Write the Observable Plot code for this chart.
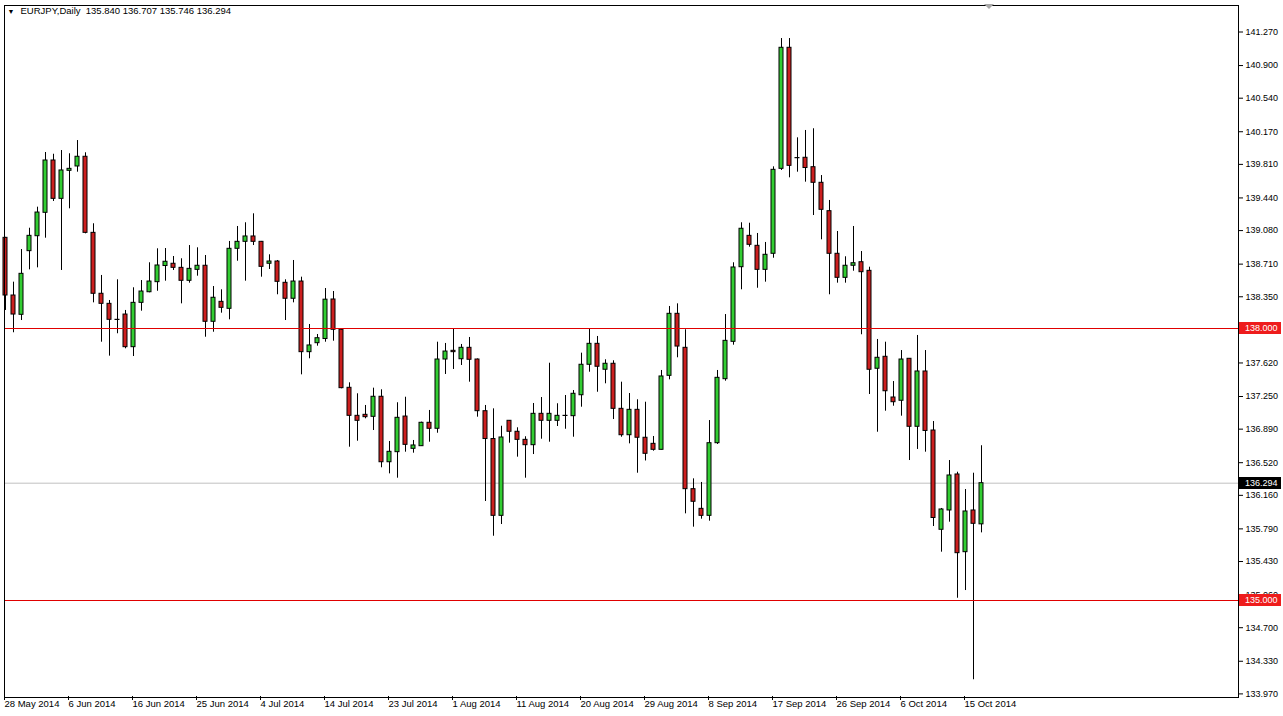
<!DOCTYPE html>
<html><head><meta charset="utf-8">
<script src="https://cdn.jsdelivr.net/npm/d3@7"></script>
<script src="https://cdn.jsdelivr.net/npm/@observablehq/plot@0.6"></script>
<style>html,body{margin:0;padding:0;background:#fff;overflow:hidden}</style>
</head><body><div id="chart"></div>
<script>
const symbol = "EURJPY,Daily";

const opens = [139.000,138.364,138.151,138.853,139.018,139.276,139.853,139.430,139.739,139.787,
139.894,139.055,138.383,138.272,138.094,138.154,137.794,138.283,138.400,138.511,
138.689,138.714,138.669,138.526,138.647,138.692,138.074,138.294,138.217,138.879,
138.956,139.015,138.956,138.714,138.739,138.504,138.328,138.518,137.739,137.838,
137.884,138.320,137.986,137.346,137.037,137.048,137.026,137.247,136.525,136.636,
137.029,136.673,136.702,136.960,136.894,137.658,137.754,137.661,137.787,137.658,
137.088,136.781,135.934,136.982,136.861,136.772,136.713,137.059,136.982,136.982,
137.037,137.033,137.264,137.600,137.831,137.545,137.611,137.114,136.823,137.103,
136.795,136.728,136.662,137.478,138.162,137.787,136.228,136.011,135.934,136.735,
137.441,137.853,138.676,139.022,138.912,138.647,138.824,139.761,141.096,139.878,
139.883,139.779,139.607,139.294,138.824,138.559,138.692,138.731,138.636,137.556,
137.688,137.239,137.203,137.666,136.916,137.526,136.875,135.780,135.993,136.390,
135.533,135.993,135.840];

const highs = [139.005,138.511,138.871,139.106,139.338,139.941,139.922,139.963,139.927,140.073,
139.938,139.155,138.585,138.309,138.537,138.199,138.449,138.529,138.725,138.879,
138.882,138.794,138.769,138.915,138.890,138.805,138.463,138.427,138.960,139.125,
139.166,139.265,138.960,138.813,138.750,138.537,138.750,138.566,138.044,137.934,
138.441,138.408,137.989,137.401,137.280,137.151,137.342,137.324,136.754,137.181,
137.242,136.765,136.967,137.096,137.849,137.835,137.989,137.824,137.901,137.664,
137.151,137.114,136.922,136.985,136.905,136.806,137.173,137.239,137.617,137.170,
137.261,137.316,137.728,137.992,137.912,137.655,137.644,137.408,137.283,137.214,
137.187,136.809,137.537,138.243,138.272,137.986,136.342,136.302,136.985,137.537,
138.154,138.725,139.166,139.161,139.048,138.949,139.783,141.198,141.198,140.103,
140.184,140.203,139.687,139.412,139.070,138.791,139.125,138.849,138.676,137.879,
137.849,137.415,137.757,137.666,137.923,137.757,136.974,136.015,136.544,136.415,
136.224,136.404,136.707];

const lows = [138.199,137.953,138.088,138.647,138.669,138.996,139.401,138.640,139.320,139.724,
139.044,138.283,137.849,137.695,137.942,137.776,137.691,138.191,138.394,138.411,
138.522,138.640,138.272,138.500,138.577,137.904,137.959,138.169,138.096,138.742,
138.522,138.915,138.566,138.651,138.372,138.088,138.283,137.489,137.666,137.805,
137.849,137.860,137.335,136.691,136.757,137.004,136.875,136.464,136.397,136.349,
136.636,136.625,136.699,136.746,136.845,137.493,137.548,137.592,137.408,137.022,
136.092,135.709,135.838,136.735,136.581,136.349,136.610,136.779,136.746,136.919,
136.889,136.801,137.132,137.518,137.297,137.390,136.996,136.801,136.728,136.404,
136.539,136.647,136.660,137.434,137.677,135.956,135.809,135.897,135.875,136.721,
137.419,137.816,138.427,138.897,138.444,138.511,138.775,139.743,139.662,139.724,
139.614,139.246,138.978,138.372,138.500,138.500,138.632,137.931,137.272,136.856,
137.088,137.143,137.033,136.544,136.666,136.636,135.816,135.533,135.864,135.025,
135.110,134.126,135.746];

const closes = [138.364,138.154,138.603,139.022,139.279,139.853,139.430,139.743,139.761,139.894,
139.055,138.383,138.272,138.096,138.096,137.794,138.283,138.408,138.518,138.695,
138.736,138.669,138.526,138.658,138.692,138.074,138.339,138.228,138.879,138.956,
139.015,138.956,138.680,138.739,138.515,138.328,138.518,137.739,137.813,137.893,
138.318,137.986,137.342,137.037,136.982,137.022,137.247,136.525,136.640,137.015,
136.717,136.710,136.960,136.894,137.658,137.746,137.739,137.787,137.655,137.088,
136.781,135.934,136.798,136.861,136.772,136.713,137.059,136.982,137.059,137.037,
137.035,137.280,137.600,137.831,137.578,137.611,137.114,136.823,137.103,136.795,
136.618,136.662,137.471,138.162,137.801,136.228,136.089,135.934,136.735,137.456,
137.864,138.673,139.100,138.923,138.647,138.813,139.750,141.096,139.794,139.880,
139.770,139.607,139.309,138.824,138.559,138.692,138.720,138.621,137.545,137.677,
137.308,137.187,137.658,136.916,137.526,136.870,135.910,136.004,136.379,135.522,
135.982,135.846,136.294];

const tickBars = [0,8,16,24,32,40,48,56,64,72,80,88,96,104,112,120];
const dateLabels = ["28 May 2014","6 Jun 2014","16 Jun 2014","25 Jun 2014","4 Jul 2014","14 Jul 2014",
"23 Jul 2014","1 Aug 2014","11 Aug 2014","20 Aug 2014","29 Aug 2014","8 Sep 2014","17 Sep 2014",
"26 Sep 2014","6 Oct 2014","15 Oct 2014"];
const yTicks = [141.270,140.900,140.540,140.170,139.810,139.440,139.080,138.710,138.350,137.620,
137.250,136.890,136.520,136.160,135.790,135.430,135.060,134.700,134.330,133.970];
const levels = [138.000, 135.000];

const n = opens.length;
const last = n - 1;
const bars = d3.range(n).map(i => ({i, open: opens[i], high: highs[i], low: lows[i], close: closes[i]}));
const header = symbol + "\u00a0\u00a0" + [opens[last], highs[last], lows[last], closes[last]].map(v => v.toFixed(3)).join(" ");

const W = 1283, H = 716, mL = 4, mR = 45, mT = 5, mB = 19;
const FONT = "'Liberation Sans', Arial, sans-serif";
// tick marks sit at the left edge of each labelled candle, as in the terminal
const tickPos = tickBars.map(b => b - 0.25);

const chart = Plot.plot({
  width: W, height: H,
  marginLeft: mL, marginRight: mR, marginTop: mT, marginBottom: mB,
  style: {fontFamily: FONT, fontSize: "9.5px", background: "white", color: "black"},
  x: {type: "linear", domain: [-0.125, 154.125]},
  y: {domain: [133.9303, 141.5624]},
  marks: [
    Plot.ruleY([closes[last]], {stroke: "#c0c0c0"}),
    Plot.ruleX(bars, {x: "i", y1: "low", y2: "high", stroke: "black", strokeWidth: 1}),
    Plot.rect(bars, {
      x1: d => d.i - 0.25, x2: d => d.i + 0.25, y1: "open", y2: "close",
      fill: d => d.close >= d.open ? "#32cd32" : "#cc1f1f",
      stroke: "black", strokeWidth: 1
    }),
    Plot.ruleY(levels, {stroke: "#e00000"}),
    Plot.frame({stroke: "black"}),
    Plot.axisX({ticks: tickPos, tickFormat: d => dateLabels[tickPos.indexOf(d)], tickSize: 4, tickPadding: 0,
      textAnchor: "start", dx: 1, dy: -1, label: null}),
    Plot.axisY({anchor: "right", ticks: yTicks, tickFormat: d => d.toFixed(3), tickSize: 4, tickPadding: 3,
      fontSize: 9, label: null}),
    Plot.text(["\u25BC"], {frameAnchor: "top-left", dx: 3, dy: 4, fontSize: 7, text: d => d, textAnchor: "start"}),
    Plot.text([header], {frameAnchor: "top-left", dx: 16, dy: 2, text: d => d, textAnchor: "start"})
  ]
});

document.getElementById("chart").appendChild(chart);

// price labels on the right axis, positioned with the plot's own y scale
const ys = chart.scale("y"), xs = chart.scale("x");
const svg = d3.select(chart);
const g = svg.append("g").attr("font-family", FONT).attr("font-size", 9).attr("text-anchor", "start");
const boxes = [
  {v: levels[0], fill: "#ee1c1c"},
  {v: closes[last], fill: "#000000"},
  {v: levels[1], fill: "#ee1c1c"}
];
for (const b of boxes) {
  const py = Math.round(ys.apply(b.v));
  g.append("rect").attr("x", W - mR + 1).attr("y", py - 6).attr("width", 42).attr("height", 12).attr("fill", b.fill);
  g.append("text").attr("x", W - mR + 7).attr("y", py).attr("dy", "0.35em").attr("fill", "white").text(b.v.toFixed(3));
}
// chart shift marker
const sx = xs.apply(n);
svg.append("polygon").attr("points", `${sx - 5},4 ${sx + 5},4 ${sx},9`).attr("fill", "#a8a8a8");
</script>
</body></html>
